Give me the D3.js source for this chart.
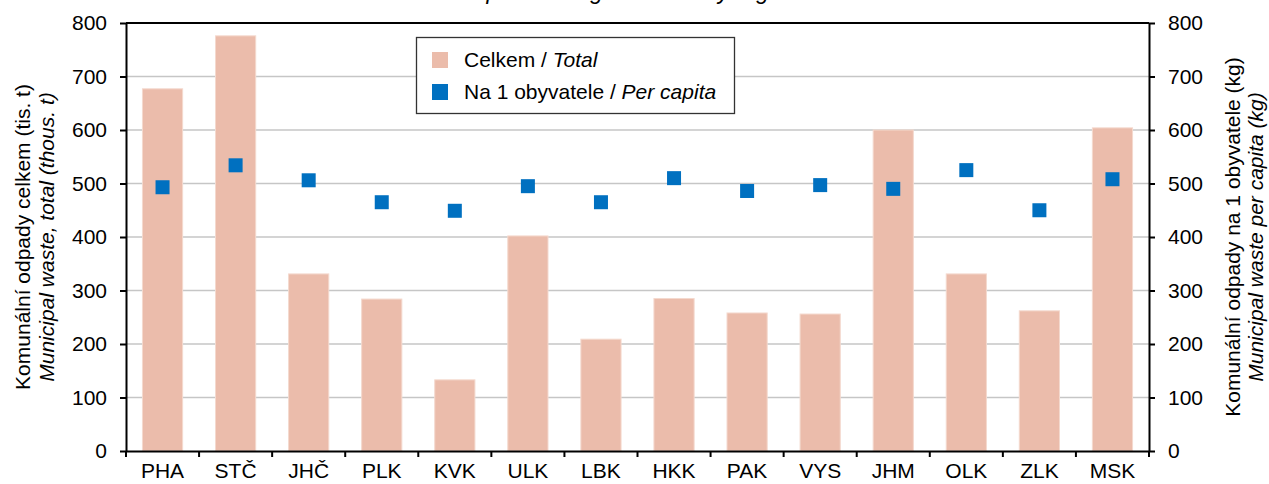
<!DOCTYPE html>
<html>
<head>
<meta charset="utf-8">
<script src="https://cdn.jsdelivr.net/npm/d3@7"></script>
<style>
  html, body { margin: 0; padding: 0; background: #fff; }
  svg { display: block; font-family: "Liberation Sans", Arial, sans-serif; }
</style>
</head>
<body>
<svg id="chart" width="1269" height="484"></svg>
<script>
const categories = ["PHA", "STČ", "JHČ", "PLK", "KVK", "ULK", "LBK", "HKK", "PAK", "VYS", "JHM", "OLK", "ZLK", "MSK"];
const totalValues = [677, 776, 331, 284, 133, 402, 209, 285, 258, 256, 600, 331, 262, 604];
const perCapitaValues = [493, 534, 506, 465, 449, 495, 465, 510, 486, 497, 490, 525, 450, 508];
const yTicks = [0, 100, 200, 300, 400, 500, 600, 700, 800];
const seriesNames = ["Celkem / ", "Total", "Na 1 obyvatele / ", "Per capita"];
const titleText = "Municipal waste generation by region";

const W = 1269, H = 484;
const m = { left: 126, right: 120, top: 23, bottom: 33 };
const iw = W - m.left - m.right, ih = H - m.top - m.bottom;
const FS = 21;

const svg = d3.select("#chart");

// title, cut off at the top edge as in the reference
svg.append("text").attr("x", 610).attr("y", -1).attr("text-anchor", "middle")
  .attr("font-size", 23).attr("font-style", "italic").attr("fill", "#000").text(titleText);

const g = svg.append("g").attr("transform", `translate(${m.left},${m.top})`);

const x = d3.scaleBand().domain(categories).range([0, iw]).paddingInner(0.45).paddingOuter(0.225);
const yL = d3.scaleLinear().domain([0, 800]).range([ih, 0]);
const yR = d3.scaleLinear().domain([0, 800]).range([ih, 0]);

// gridlines
g.append("g").selectAll("line").data(yTicks.filter(v => v > 0 && v < 800)).join("line")
  .attr("x1", 0).attr("x2", iw).attr("y1", d => yL(d)).attr("y2", d => yL(d))
  .attr("stroke", "#c6c6c6").attr("stroke-width", 1.5);

// bars
g.append("g").selectAll("rect").data(categories).join("rect")
  .attr("x", d => x(d)).attr("width", x.bandwidth())
  .attr("y", (d, i) => yL(totalValues[i])).attr("height", (d, i) => ih - yL(totalValues[i]))
  .attr("fill", "#ebbcab").attr("stroke", "#f4d9ce").attr("stroke-width", 1);

// per-capita squares
const sq = 14;
g.append("g").selectAll("rect").data(categories).join("rect")
  .attr("x", d => x(d) + x.bandwidth() / 2 - sq / 2)
  .attr("y", (d, i) => yR(perCapitaValues[i]) - sq / 2)
  .attr("width", sq).attr("height", sq).attr("fill", "#0070c0");

// top frame line
g.append("line").attr("x1", 0).attr("x2", iw).attr("y1", 0).attr("y2", 0)
  .attr("stroke", "#000").attr("stroke-width", 2);

function styleAxis(sel) {
  sel.selectAll(".domain").attr("stroke", "#000").attr("stroke-width", 2);
  sel.selectAll(".tick line").attr("stroke", "#000").attr("stroke-width", 2);
  sel.selectAll("text").attr("font-size", FS).attr("fill", "#000").attr("font-family", "Liberation Sans, Arial, sans-serif");
}

// left axis
const axL = g.append("g").call(d3.axisLeft(yL).tickValues(yTicks).tickSize(6).tickSizeOuter(0).tickPadding(13).tickFormat(d3.format("d")));
styleAxis(axL);

// right axis
const axR = g.append("g").attr("transform", `translate(${iw},0)`)
  .call(d3.axisRight(yR).tickValues(yTicks).tickSize(6).tickSizeOuter(0).tickPadding(13).tickFormat(d3.format("d")));
styleAxis(axR);

// bottom axis: labels
const axB = g.append("g").attr("transform", `translate(0,${ih})`)
  .call(d3.axisBottom(x).tickSize(0).tickPadding(12));
styleAxis(axB);
// bottom axis boundary ticks
const bounds = categories.map(d => x(d) - x.step() * x.paddingInner() / 2).concat([iw]);
axB.append("g").selectAll("line").data(bounds).join("line")
  .attr("x1", d => d).attr("x2", d => d).attr("y1", 0).attr("y2", 6)
  .attr("stroke", "#000").attr("stroke-width", 2);

// axis titles
const cy = m.top + ih / 2;
const lt = svg.append("text").attr("transform", `translate(30,${cy}) rotate(-90)`)
  .attr("text-anchor", "middle").attr("font-size", FS).attr("fill", "#000");
lt.append("tspan").attr("x", 0).attr("y", 0).text("Komunální odpady celkem (tis. t)");
lt.append("tspan").attr("x", 0).attr("y", 24).attr("font-style", "italic").text("Municipal waste, total (thous. t)");

const rt = svg.append("text").attr("transform", `translate(1240,${cy}) rotate(-90)`)
  .attr("text-anchor", "middle").attr("font-size", FS).attr("fill", "#000");
rt.append("tspan").attr("x", 0).attr("y", 0).text("Komunální odpady na 1 obyvatele (kg)");
rt.append("tspan").attr("x", 0).attr("y", 23).attr("font-style", "italic").text("Municipal waste per capita (kg)");

// legend
const lg = svg.append("g");
lg.append("rect").attr("x", 416.5).attr("y", 37.5).attr("width", 318).attr("height", 76)
  .attr("fill", "#fff").attr("stroke", "#333").attr("stroke-width", 1.3);
const legendItems = [
  { color: "#ebbcab", a: seriesNames[0], b: seriesNames[1], y: 52 },
  { color: "#0070c0", a: seriesNames[2], b: seriesNames[3], y: 84 }
];
legendItems.forEach(it => {
  lg.append("rect").attr("x", 432).attr("y", it.y).attr("width", 16).attr("height", 16).attr("fill", it.color);
  const t = lg.append("text").attr("x", 464).attr("y", it.y + 15).attr("font-size", FS).attr("fill", "#000");
  t.append("tspan").text(it.a);
  t.append("tspan").attr("font-style", "italic").text(it.b);
});
</script>
</body>
</html>
